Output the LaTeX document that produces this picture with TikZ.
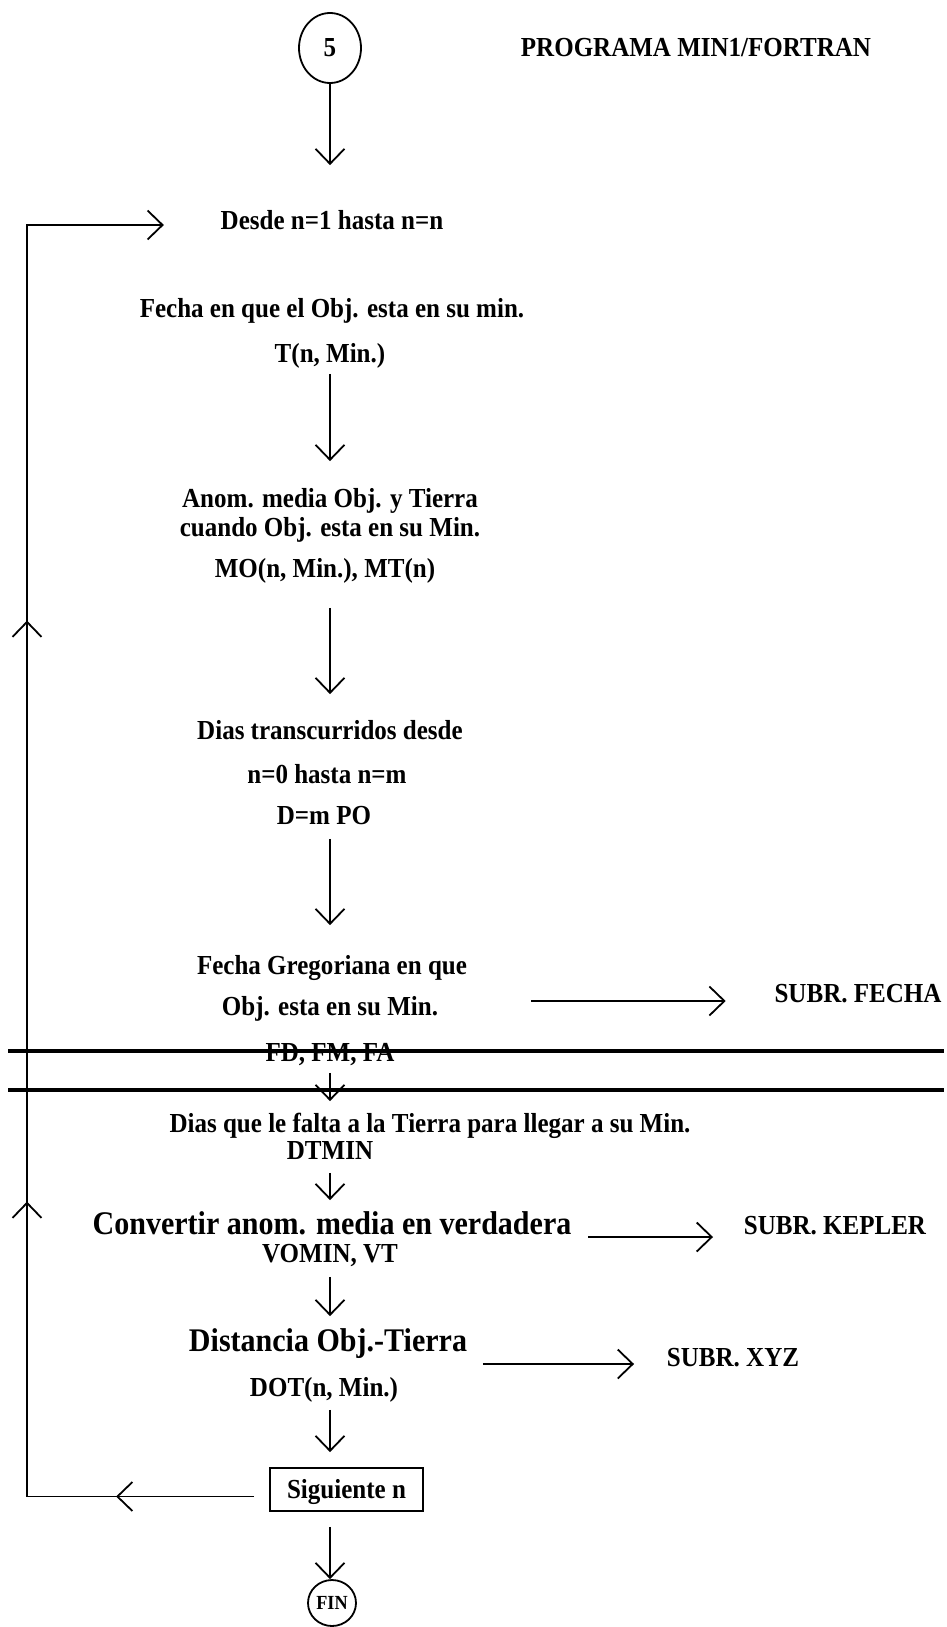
\documentclass[tikz,border=0pt]{standalone}
\usepackage{fontspec}
\setmainfont[FakeStretch=0.91]{Liberation Serif}
\usetikzlibrary{arrows.meta,shapes.geometric,decorations.markings}

\begin{document}
\begin{tikzpicture}[x=1pt, y=-1pt, line width=1.8pt,
    >={Straight Barb[length=15pt, width=29pt]},
    txt/.style={font=\bfseries\fontsize{27.5}{32}\selectfont, inner sep=0pt, text height=20pt, text depth=2pt},
    bigtxt/.style={font=\bfseries\fontsize{33}{38}\selectfont, inner sep=0pt, text height=23.5pt, text depth=3.5pt},
    arr/.style={->},
    loopmarks/.style={decoration={markings,
        mark=at position 138pt with {\arrow{>}},
        mark=at position 522pt with {\arrow{>}},
        mark=at position 1103pt with {\arrow{>}}}, postaction=decorate}]
    \useasboundingbox (0,0) rectangle (946,1627);
    % Start connector and title
    \node[draw, ellipse, minimum width=62pt, minimum height=70pt, txt] (c5) at (330,48) {5};
    \node[txt] (title) at (696,48) {PROGRAMA MIN1/FORTRAN};
    % Loop start
    \node[txt] (desde) at (332,220) {Desde n=1 hasta n=n};
    \draw [arr, shorten >=43pt](c5.south) -- (c5.south |- desde.north);
    % Date of minimum
    \node[txt] (fecha) at (332,308) {Fecha en que el Obj. esta en su min.};
    \node[txt] (tmin) at (330,353) {T(n, Min.)};
    % Mean anomalies
    \node[txt] (anom1) at (330,498) {Anom. media Obj. y Tierra};
    \node[txt] (anom2) at (330,527) {cuando Obj. esta en su Min.};
    \node[txt] (mo) at (325,568) {MO(n, Min.), MT(n)};
    \draw [arr, shorten <=9pt, shorten >=25pt](tmin.south -| c5) -- (anom1.north -| c5);
    % Elapsed days
    \node[txt] (dias1) at (330,730) {Dias transcurridos desde};
    \node[txt] (dias2) at (327,774) {n=0 hasta n=m};
    \node[txt] (dm) at (324,815) {D=m PO};
    \draw [arr, shorten <=28pt, shorten >=24pt](mo.south -| c5) -- (dias1.north -| c5);
    % Gregorian date
    \node[txt] (greg1) at (332,965) {Fecha Gregoriana en que};
    \node[txt] (greg2) at (330,1006) {Obj. esta en su Min.};
    \node[txt] (fdfm) at (330,1052) {FD, FM, FA};
    \node[txt] (sfecha) at (858,993) {SUBR. FECHA};
    \draw [arr, shorten <=12pt, shorten >=28pt](dm.south -| c5) -- (greg1.north -| c5);
    \draw [arr, shorten <=92pt, shorten >=48pt]([yshift=5pt]greg2.east) -- ([yshift=5pt]greg2.east -| sfecha.west);
    % Page break lines
    \draw [line width=3.5pt] (8,1051) -- (944,1051);
    \draw [line width=3.5pt] (8,1090) -- (944,1090);
    % Days left for the Earth
    \node[txt] (falta) at (430,1123) {Dias que le falta a la Tierra para llegar a su Min.};
    \node[txt] (dtmin) at (330,1150) {DTMIN};
    \draw [arr, shorten <=9pt, shorten >=10pt](fdfm.south -| c5) -- (falta.north -| c5);
    % True anomaly
    \node[bigtxt] (conv) at (332,1224) {Convertir anom. media en verdadera};
    \node[txt] (vomin) at (330,1253) {VOMIN, VT};
    \node[txt] (skep) at (835,1225) {SUBR. KEPLER};
    \draw [arr, shorten <=11pt, shorten >=9.5pt](dtmin.south -| c5) -- (conv.north -| c5);
    \draw [arr, shorten <=16pt, shorten >=30pt]([yshift=-3pt]conv.base east) -- ([yshift=-3pt]conv.base east -| skep.west);
    % Distance
    \node[bigtxt] (dist) at (328,1341) {Distancia Obj.-Tierra};
    \node[txt] (dot) at (324,1387) {DOT(n, Min.)};
    \node[txt] (sxyz) at (733,1357) {SUBR. XYZ};
    \draw [arr, shorten <=12pt, shorten >=10.5pt](vomin.south -| c5) -- (dist.north -| c5);
    \draw [arr, shorten <=15pt, shorten >=32pt]([yshift=-13pt]dist.base east) -- ([yshift=-13pt]dist.base east -| sxyz.west);
    % Next n box and loop back
    \node[txt, draw, minimum width=153pt, minimum height=43pt] (sig) at (346.5,1489.5) {Siguiente n};
    \coordinate (loop) at (27,225);
    \draw [arr, shorten <=11pt, shorten >=15pt](dot.south -| c5) -- (sig.north -| c5);
    \draw [arr, loopmarks]([xshift=-15pt, yshift=-7pt]sig.west) -| (loop) -- ([xshift=-56pt]loop -| desde.west);
    % End
    \node[draw, ellipse, minimum width=48pt, minimum height=46pt, inner sep=0pt, font=\bfseries\fontsize{20}{24}\selectfont] (fin) at (332,1603) {FIN};
    \draw [arr, shorten <=15pt](sig.south -| c5) -- (fin.north -| c5);
\end{tikzpicture}
\end{document}
